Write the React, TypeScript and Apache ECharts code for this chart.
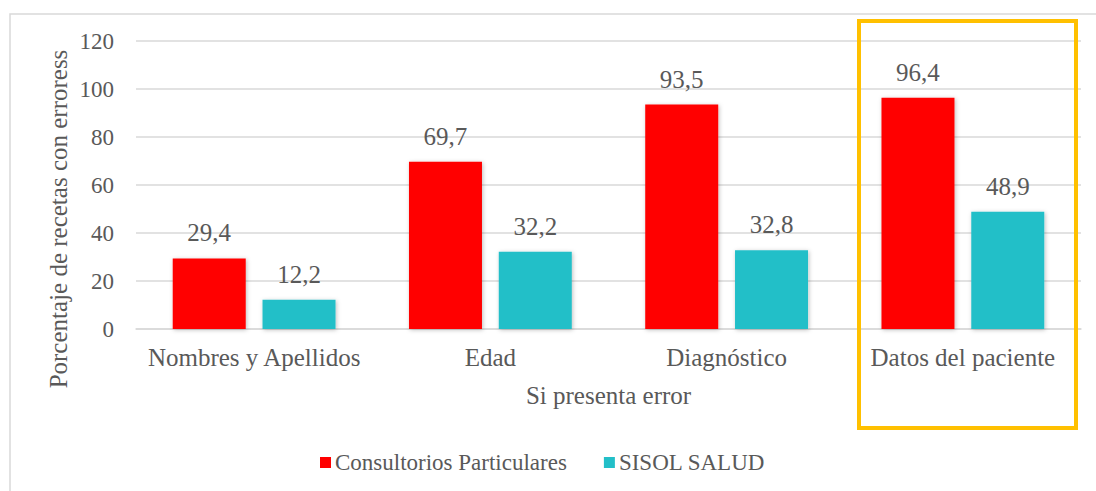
import React, { useEffect, useRef } from "react";
import * as echarts from "echarts";

const categories = ["Nombres y Apellidos", "Edad", "Diagnóstico", "Datos del paciente"];
const consultorios = [29.4, 69.7, 93.5, 96.4];
const sisol = [12.2, 32.2, 32.8, 48.9];
const seriesNames = ["Consultorios Particulares", "SISOL SALUD"];
const yAxisTitle = "Porcentaje de recetas con erroress";
const xAxisTitle = "Si presenta error";

const FONT = "'Liberation Serif', 'Times New Roman', serif";
const TXT = "#595959";

export default function App() {
  const ref = useRef<HTMLDivElement>(null);
  useEffect(() => {
    if (!ref.current) return;
    const chart = echarts.init(ref.current, undefined, { renderer: "svg" });
    const label = {
      show: true,
      position: "top" as const,
      distance: 13,
      color: TXT,
      fontSize: 25,
      fontFamily: FONT,
      formatter: (p: any) => String(p.value).replace(".", ","),
    };
    chart.setOption({
      animation: false,
      backgroundColor: "#ffffff",
      textStyle: { fontFamily: FONT },
      grid: { left: 136, right: 15, top: 41, bottom: 162 },
      legend: {
        data: seriesNames,
        left: 320,
        top: 451,
        padding: 0,
        itemWidth: 11,
        itemHeight: 11,
        itemGap: 37,
        icon: "rect",
        textStyle: { color: TXT, fontSize: 23, fontFamily: FONT, padding: [0, 0, 0, -1] },
      },
      xAxis: {
        type: "category",
        data: categories,
        name: xAxisTitle,
        nameLocation: "middle",
        nameGap: 54,
        nameTextStyle: { color: TXT, fontSize: 25, fontFamily: FONT },
        axisLine: { lineStyle: { color: "#d9d9d9", width: 1.5 } },
        axisTick: { show: false },
        axisLabel: { color: TXT, fontSize: 25, fontFamily: FONT, margin: 16, interval: 0 },
      },
      yAxis: {
        type: "value",
        min: 0,
        max: 120,
        interval: 20,
        axisLine: { show: false },
        axisTick: { show: false },
        axisLabel: { color: TXT, fontSize: 23, fontFamily: FONT, margin: 22 },
        splitLine: { lineStyle: { color: "#d9d9d9", width: 1.5 } },
      },
      series: [
        {
          name: seriesNames[0],
          type: "bar",
          data: consultorios,
          barWidth: 73,
          barGap: "23%",
          itemStyle: { color: "#FF0000", shadowBlur: 4, shadowColor: "rgba(0,0,0,0.25)", shadowOffsetX: 1, shadowOffsetY: 1 },
          label,
        },
        {
          name: seriesNames[1],
          type: "bar",
          data: sisol,
          barWidth: 73,
          itemStyle: { color: "#23BFC8", shadowBlur: 4, shadowColor: "rgba(0,0,0,0.25)", shadowOffsetX: 1, shadowOffsetY: 1 },
          label,
        },
      ],
      graphic: [
        {
          type: "rect",
          silent: true,
          shape: { x: 10, y: 14, width: 1200, height: 600 },
          style: { fill: "none", stroke: "#d9d9d9", lineWidth: 1.5 },
          z: -1,
        },
        {
          type: "text",
          x: 58,
          y: 219,
          rotation: Math.PI / 2,
          style: {
            text: yAxisTitle,
            fill: TXT,
            fontSize: 25,
            fontFamily: FONT,
            align: "center",
            verticalAlign: "middle",
          },
        },
        {
          type: "rect",
          silent: true,
          shape: { x: 859, y: 21, width: 217, height: 407 },
          style: { fill: "none", stroke: "#FFC000", lineWidth: 4 },
          z: 100,
        },
      ],
    });
    return () => chart.dispose();
  }, []);
  return (
    <div
      ref={ref}
      style={{ position: "fixed", left: 0, top: 0, width: 1096, height: 491 }}
    />
  );
}
